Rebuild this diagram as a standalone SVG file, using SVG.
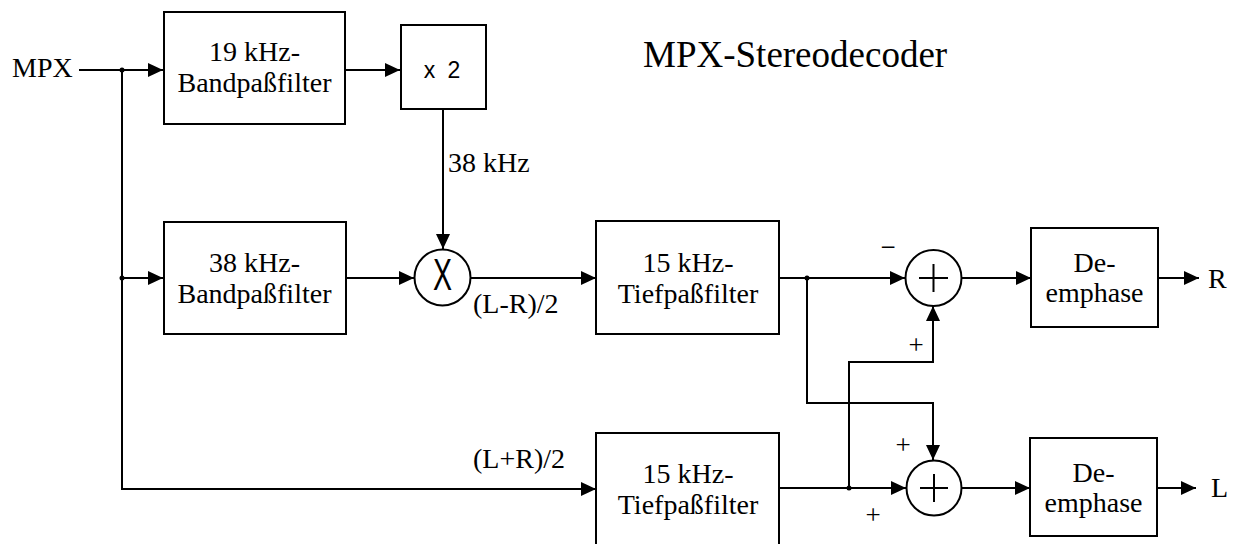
<svg xmlns="http://www.w3.org/2000/svg" width="1239" height="544" viewBox="0 0 1239 544" font-family="'Liberation Serif', 'Times New Roman', Times, serif">
<defs>
<marker id="arr" markerUnits="userSpaceOnUse" markerWidth="16" markerHeight="16" refX="15" refY="7" orient="auto">
<path d="M0,0 L15,7 L0,14 z" fill="#000"/>
</marker>
<style>
.box{fill:#fff;stroke:#000;stroke-width:2}
.wire{fill:none;stroke:#000;stroke-width:2}
</style>
</defs>
<rect width="1239" height="544" fill="#fff"/>
<text x="12" y="77" font-size="28">MPX</text>
<text x="643" y="67" font-size="37">MPX-Stereodecoder</text>

<g id="connectors">
<path class="wire" d="M79,70 H163" marker-end="url(#arr)"/>
<path class="wire" d="M122,70 V489 H596" marker-end="url(#arr)"/>
<path class="wire" d="M122,278 H163" marker-end="url(#arr)"/>
<path class="wire" d="M345,70 H400" marker-end="url(#arr)"/>
<path class="wire" d="M443,109 V249" marker-end="url(#arr)"/>
<path class="wire" d="M345,278 H414" marker-end="url(#arr)"/>
<path class="wire" d="M471,278 H596" marker-end="url(#arr)"/>
<path class="wire" d="M779,278 H905" marker-end="url(#arr)"/>
<path class="wire" d="M807,278 V403 H933 V460" marker-end="url(#arr)"/>
<path class="wire" d="M779,488 H906" marker-end="url(#arr)"/>
<path class="wire" d="M849,488 V362 H933 V306" marker-end="url(#arr)"/>
<path class="wire" d="M962,278 H1031" marker-end="url(#arr)"/>
<path class="wire" d="M1158,278 H1199" marker-end="url(#arr)"/>
<path class="wire" d="M962,488 H1030" marker-end="url(#arr)"/>
<path class="wire" d="M1157,488 H1196" marker-end="url(#arr)"/>
<circle cx="122" cy="70" r="2.5"/>
<circle cx="122" cy="278" r="2.5"/>
<circle cx="807" cy="278" r="2.5"/>
<circle cx="849" cy="488" r="2.5"/>
<g font-size="28">
<text x="448" y="172">38 kHz</text>
<text x="473" y="313">(L-R)/2</text>
<text x="473" y="468">(L+R)/2</text>
<text x="1208" y="288">R</text>
<text x="1211" y="497">L</text>
</g>
<g font-size="27" text-anchor="middle">
<text x="888" y="256">−</text>
<text x="916" y="354">+</text>
<text x="903" y="454">+</text>
<text x="873" y="524">+</text>
</g>
</g>

<g id="bp19" font-size="28" text-anchor="middle">
<rect class="box" x="164" y="12" width="181" height="112"/>
<text x="254.5" y="61">19 kHz-</text>
<text x="254.5" y="92">Bandpaßfilter</text>
</g>
<g id="x2">
<rect class="box" x="401" y="25" width="85" height="84"/>
<text text-anchor="middle" x="442" y="78" font-family="'Liberation Sans', Arial, sans-serif" font-size="23" word-spacing="6">x 2</text>
</g>
<g id="bp38" font-size="28" text-anchor="middle">
<rect class="box" x="164" y="222" width="182" height="112"/>
<text x="254.5" y="272">38 kHz-</text>
<text x="254.5" y="303">Bandpaßfilter</text>
</g>
<g id="mult">
<circle class="box" cx="442.5" cy="277.5" r="28"/>
<text text-anchor="middle" x="442.5" y="290" font-family="'Liberation Sans', Arial, sans-serif" font-size="44" textLength="19" lengthAdjust="spacingAndGlyphs">X</text>
</g>
<g id="lp1" font-size="28" text-anchor="middle">
<rect class="box" x="596" y="221" width="183" height="113"/>
<text x="688" y="272">15 kHz-</text>
<text x="688" y="303">Tiefpaßfilter</text>
</g>
<g id="lp2" font-size="28" text-anchor="middle">
<rect class="box" x="596" y="433" width="183" height="115"/>
<text x="688" y="483">15 kHz-</text>
<text x="688" y="514">Tiefpaßfilter</text>
</g>
<g id="sumR">
<circle class="box" cx="933.5" cy="278" r="28"/>
<path class="wire" d="M919,278 H948 M933.5,264 V292"/>
</g>
<g id="sumL">
<circle class="box" cx="934" cy="488" r="27.5"/>
<path class="wire" d="M920,488 H948 M934,474 V502"/>
</g>
<g id="deR" font-size="28" text-anchor="middle">
<rect class="box" x="1031" y="228" width="127" height="99"/>
<text x="1094.5" y="272">De-</text>
<text x="1094.5" y="302">emphase</text>
</g>
<g id="deL" font-size="28" text-anchor="middle">
<rect class="box" x="1030" y="438" width="127" height="98"/>
<text x="1093.5" y="482">De-</text>
<text x="1093.5" y="512">emphase</text>
</g>
</svg>
